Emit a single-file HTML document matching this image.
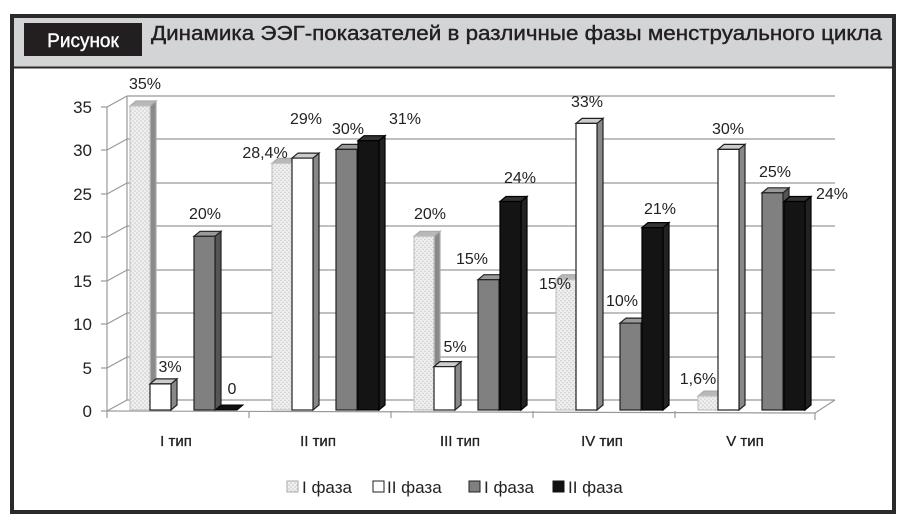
<!DOCTYPE html>
<html><head><meta charset="utf-8"><style>
html,body{margin:0;padding:0;background:#fff;}
svg{display:block;font-family:"Liberation Sans","DejaVu Sans",sans-serif;}
.a .f{fill:url(#dots);stroke:#c4c4c4}.a .s{fill:#8a8a8a;stroke:#aaa}.a .t{fill:#b8b8b8;stroke:#aaa}
.b .f{fill:#fff;stroke:#222}.b .s{fill:#888;stroke:#222}.b .t{fill:#ccc;stroke:#222}
.c .f{fill:#808080;stroke:#222}.c .s{fill:#555;stroke:#222}.c .t{fill:#999;stroke:#222}
.d .f{fill:#141414;stroke:#000}.d .s{fill:#222;stroke:#000}.d .t{fill:#333;stroke:#000}
.f,.s,.t{stroke-width:1.2}
</style></head><body>
<svg width="910" height="531" viewBox="0 0 910 531" xmlns="http://www.w3.org/2000/svg">
<defs>
<pattern id="dots" width="4" height="4" patternUnits="userSpaceOnUse">
<rect width="4" height="4" fill="#f0f0f0"/>
<circle cx="1" cy="1" r="0.8" fill="#c8c8c8"/><circle cx="3" cy="3" r="0.8" fill="#c8c8c8"/>
</pattern>
</defs>
<rect x="0" y="0" width="910" height="531" fill="#fff"/>
<rect x="12" y="16" width="882" height="52" fill="#d3d4d6"/>
<rect x="12" y="16" width="882" height="496" fill="none" stroke="#2a2a2a" stroke-width="4"/>
<line x1="12" y1="67.5" x2="894" y2="67.5" stroke="#2a2a2a" stroke-width="2"/>
<rect x="24" y="23" width="118" height="33" fill="#231f20"/>
<text x="83" y="47" fill="#fff" font-size="19" text-anchor="middle" stroke="#fff" stroke-width="0.4">Рисунок</text>
<text x="151" y="40" fill="#231f20" font-size="20" stroke="#231f20" stroke-width="0.4" textLength="731" lengthAdjust="spacingAndGlyphs">Динамика ЭЭГ-показателей в различные фазы менструального цикла</text>

<g stroke="#999" stroke-width="1.2" fill="none">
<line x1="127" y1="96" x2="835" y2="96"/>
<line x1="127" y1="139" x2="835" y2="139"/>
<line x1="127" y1="183" x2="835" y2="183"/>
<line x1="127" y1="226" x2="835" y2="226"/>
<line x1="127" y1="270" x2="835" y2="270"/>
<line x1="127" y1="313" x2="835" y2="313"/>
<line x1="127" y1="357" x2="835" y2="357"/>
<line x1="127" y1="400" x2="835" y2="400"/>
<line x1="127" y1="96" x2="127" y2="400"/>
<line x1="835" y1="400" x2="815" y2="413"/>
<line x1="107" y1="411" x2="815" y2="413"/>
<line x1="815" y1="413" x2="815" y2="420"/>
<line x1="107" y1="107" x2="127" y2="96"/><line x1="107" y1="150" x2="127" y2="139"/>
<line x1="107" y1="194" x2="127" y2="183"/><line x1="107" y1="237" x2="127" y2="226"/>
<line x1="107" y1="281" x2="127" y2="270"/><line x1="107" y1="324" x2="127" y2="313"/>
<line x1="107" y1="368" x2="127" y2="357"/><line x1="107" y1="411" x2="127" y2="400"/>
<line x1="107" y1="107" x2="107" y2="411"/>
<line x1="101" y1="107" x2="107" y2="107"/><line x1="101" y1="150" x2="107" y2="150"/>
<line x1="101" y1="194" x2="107" y2="194"/><line x1="101" y1="237" x2="107" y2="237"/>
<line x1="101" y1="281" x2="107" y2="281"/><line x1="101" y1="324" x2="107" y2="324"/>
<line x1="101" y1="368" x2="107" y2="368"/><line x1="101" y1="411" x2="107" y2="411"/>
<line x1="107" y1="411" x2="107" y2="418"/><line x1="249" y1="411" x2="249" y2="418"/>
<line x1="391" y1="411" x2="391" y2="418"/><line x1="533" y1="411" x2="533" y2="418"/>
<line x1="675" y1="411" x2="675" y2="418"/>
</g>
<g font-size="17" fill="#222" text-anchor="end">
<text x="92" y="113">35</text><text x="92" y="156">30</text><text x="92" y="200">25</text>
<text x="92" y="243">20</text><text x="92" y="287">15</text><text x="92" y="330">10</text>
<text x="92" y="374">5</text><text x="92" y="417">0</text>
</g>
<g font-size="15" fill="#222" text-anchor="middle" stroke="#222" stroke-width="0.3">
<text x="176" y="446">I тип</text><text x="318" y="446">II тип</text><text x="460" y="446">III тип</text>
<text x="602" y="446">IV тип</text><text x="745" y="446">V тип</text>
</g>

<g class="a">
<g transform="translate(130,106)"><polygon class="s" points="20,0 26,-5 26,299 20,304"/><polygon class="t" points="0,0 6,-5 26,-5 20,0"/><rect class="f" width="20" height="304"/></g>
<g transform="translate(272,163.3)"><polygon class="s" points="20,0 26,-5 26,241.7 20,246.7"/><polygon class="t" points="0,0 6,-5 26,-5 20,0"/><rect class="f" width="20" height="246.7"/></g>
<g transform="translate(414,236.3)"><polygon class="s" points="20,0 26,-5 26,168.7 20,173.7"/><polygon class="t" points="0,0 6,-5 26,-5 20,0"/><rect class="f" width="20" height="173.7"/></g>
<g transform="translate(556,279.7)"><polygon class="s" points="20,0 26,-5 26,125.3 20,130.3"/><polygon class="t" points="0,0 6,-5 26,-5 20,0"/><rect class="f" width="20" height="130.3"/></g>
<g transform="translate(698,396.1)"><polygon class="s" points="20,0 26,-5 26,8.9 20,13.9"/><polygon class="t" points="0,0 6,-5 26,-5 20,0"/><rect class="f" width="20" height="13.9"/></g>
</g>
<g class="b">
<g transform="translate(150,383.9)"><polygon class="s" points="21,0 27,-5 27,21.1 21,26.1"/><polygon class="t" points="0,0 6,-5 27,-5 21,0"/><rect class="f" width="21" height="26.1"/></g>
<g transform="translate(292,158.1)"><polygon class="s" points="21,0 27,-5 27,246.9 21,251.9"/><polygon class="t" points="0,0 6,-5 27,-5 21,0"/><rect class="f" width="21" height="251.9"/></g>
<g transform="translate(434,366.6)"><polygon class="s" points="21,0 27,-5 27,38.4 21,43.4"/><polygon class="t" points="0,0 6,-5 27,-5 21,0"/><rect class="f" width="21" height="43.4"/></g>
<g transform="translate(576,123.4)"><polygon class="s" points="21,0 27,-5 27,281.6 21,286.6"/><polygon class="t" points="0,0 6,-5 27,-5 21,0"/><rect class="f" width="21" height="286.6"/></g>
<g transform="translate(718,149.4)"><polygon class="s" points="21,0 27,-5 27,255.6 21,260.6"/><polygon class="t" points="0,0 6,-5 27,-5 21,0"/><rect class="f" width="21" height="260.6"/></g>
</g>
<g class="c">
<g transform="translate(194,236.3)"><polygon class="s" points="21,0 27,-5 27,168.7 21,173.7"/><polygon class="t" points="0,0 6,-5 27,-5 21,0"/><rect class="f" width="21" height="173.7"/></g>
<g transform="translate(336,149.4)"><polygon class="s" points="21,0 27,-5 27,255.6 21,260.6"/><polygon class="t" points="0,0 6,-5 27,-5 21,0"/><rect class="f" width="21" height="260.6"/></g>
<g transform="translate(478,279.7)"><polygon class="s" points="21,0 27,-5 27,125.3 21,130.3"/><polygon class="t" points="0,0 6,-5 27,-5 21,0"/><rect class="f" width="21" height="130.3"/></g>
<g transform="translate(620,323.1)"><polygon class="s" points="21,0 27,-5 27,81.9 21,86.9"/><polygon class="t" points="0,0 6,-5 27,-5 21,0"/><rect class="f" width="21" height="86.9"/></g>
<g transform="translate(762,192.8)"><polygon class="s" points="21,0 27,-5 27,212.2 21,217.2"/><polygon class="t" points="0,0 6,-5 27,-5 21,0"/><rect class="f" width="21" height="217.2"/></g>
</g>
<g class="d">
<polygon points="216,410 222,405 243,405 237,410" fill="#111" stroke="#000"/>
<g transform="translate(358,140.7)"><polygon class="s" points="21,0 27,-5 27,264.3 21,269.3"/><polygon class="t" points="0,0 6,-5 27,-5 21,0"/><rect class="f" width="21" height="269.3"/></g>
<g transform="translate(500,201.5)"><polygon class="s" points="21,0 27,-5 27,203.5 21,208.5"/><polygon class="t" points="0,0 6,-5 27,-5 21,0"/><rect class="f" width="21" height="208.5"/></g>
<g transform="translate(642,227.6)"><polygon class="s" points="21,0 27,-5 27,177.4 21,182.4"/><polygon class="t" points="0,0 6,-5 27,-5 21,0"/><rect class="f" width="21" height="182.4"/></g>
<g transform="translate(784,201.5)"><polygon class="s" points="21,0 27,-5 27,203.5 21,208.5"/><polygon class="t" points="0,0 6,-5 27,-5 21,0"/><rect class="f" width="21" height="208.5"/></g>
</g>

<g font-size="16" fill="#222" text-anchor="middle">
<text x="145" y="89">35%</text><text x="170" y="372">3%</text><text x="205" y="219">20%</text><text x="232" y="394">0</text>
<text x="265" y="158">28,4%</text><text x="306" y="124">29%</text><text x="348" y="134">30%</text><text x="405" y="124">31%</text>
<text x="430" y="219">20%</text><text x="455" y="352">5%</text><text x="472" y="264">15%</text><text x="520" y="183">24%</text>
<text x="555" y="289">15%</text><text x="587" y="107">33%</text><text x="622" y="306">10%</text><text x="660" y="214">21%</text>
<text x="698" y="384">1,6%</text><text x="728" y="134">30%</text><text x="775" y="177">25%</text><text x="832" y="199">24%</text>
</g>
<g font-size="17" fill="#222">
<rect x="287" y="481" width="11" height="11" fill="url(#dots)" stroke="#aaa"/><text x="302" y="493">I фаза</text>
<rect x="373" y="481" width="11" height="11" fill="#fff" stroke="#222"/><text x="387" y="493">II фаза</text>
<rect x="469" y="481" width="11" height="11" fill="#808080" stroke="#222"/><text x="484" y="493">I фаза</text>
<rect x="553" y="481" width="11" height="11" fill="#111" stroke="#111"/><text x="568" y="493">II фаза</text>
</g>
</svg>
</body></html>
